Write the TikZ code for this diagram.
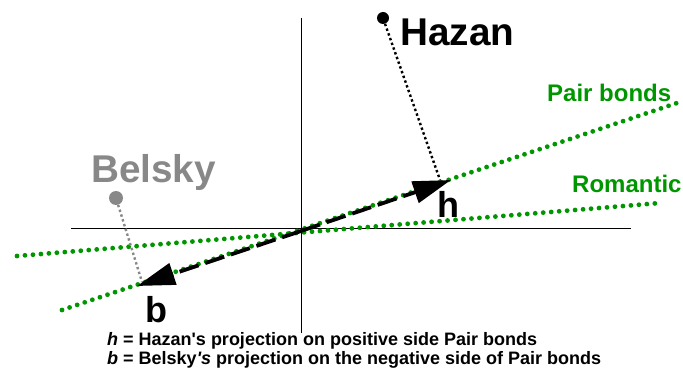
\documentclass[tikz,border=0pt]{standalone}
\usepackage{fontspec}
\setmainfont{Liberation Sans}[Ligatures=TeXOff]
\usetikzlibrary{arrows.meta}
\definecolor{bondgreen}{RGB}{0,150,0}
\definecolor{belskygray}{RGB}{136,136,136}
\tikzset{
  greendots/.style={bondgreen, line width=4.8pt, line cap=round, dash pattern=on 0pt off 8pt},
  axisline/.style={black, line width=1pt},
  projline/.style={line width=2.4pt, dash pattern=on 2.4pt off 2.6pt},
  vecarrow/.style={black, line width=3.8pt, dash pattern=on 20pt off 7pt, -{Triangle[length=38pt,width=22pt]}},
  bigname/.style={font=\fontsize{38.7}{42}\selectfont\bfseries, anchor=base west, inner sep=0pt},
  linelabel/.style={font=\fontsize{24}{26}\selectfont\bfseries, text=bondgreen, anchor=base west, inner sep=0pt},
  projlabel/.style={font=\fontsize{36}{40}\selectfont\bfseries, anchor=base west, inner sep=0pt},
  legend/.style={font=\fontsize{18}{20}\selectfont\bfseries, anchor=base west, inner sep=0pt}
}
\begin{document}
\begin{tikzpicture}[x=1pt,y=-1pt]
\useasboundingbox (0,0) rectangle (683,374);
% coordinates
\coordinate (O) at (301,231);
\coordinate (axL) at (71,229);
\coordinate (axR) at (631,229);
\coordinate (axT) at (301,18);
\coordinate (axB) at (301,333);
\coordinate (pbL) at (62,310);
\coordinate (pbR) at (677,103);
\coordinate (roL) at (17,256);
\coordinate (roR) at (660,203);
\coordinate (hp) at (451,180);
\coordinate (bp) at (137,286);
\coordinate (hfoot) at (440,180);
\coordinate (bfoot) at (142,282);
% axes
\draw[axisline] (axL) -- (axR);
\draw[axisline] (axT) -- (axB);
% green lines
\draw[greendots] (roL) -- (roR);
\draw[greendots] (pbL) -- (pbR);
% points
\node[circle, fill=black, minimum size=12pt, inner sep=0pt] (H) at (383,18) {};
\node[circle, fill=belskygray, minimum size=14pt, inner sep=0pt] (B) at (116,198) {};
\draw[projline, black] (H) -- (hfoot);
\draw[projline, belskygray] (B) -- (bfoot);
% vectors
\draw[vecarrow] (O) -- (hp);
\draw[vecarrow] (O) -- (bp);
% labels
\node[bigname] (hazan) at (400,46) {Hazan};
\node[bigname, text=belskygray] (belsky) at (91,183) {Belsky};
\node[linelabel] (pblab) at (547,102) {Pair bonds};
\node[linelabel] (rolab) at (572,193) {Romantic};
\node[projlabel] (hlab) at (437,218) {h};
\node[projlabel] (blab) at (145,322) {b};
\node[legend] (leg1) at (107,345) {\textit{h} = Hazan's projection on positive side Pair bonds};
\node[legend] (leg2) at (107,364) {\textit{b} = Belsky\textit{'s} projection on the negative side of Pair bonds};
\end{tikzpicture}
\end{document}
